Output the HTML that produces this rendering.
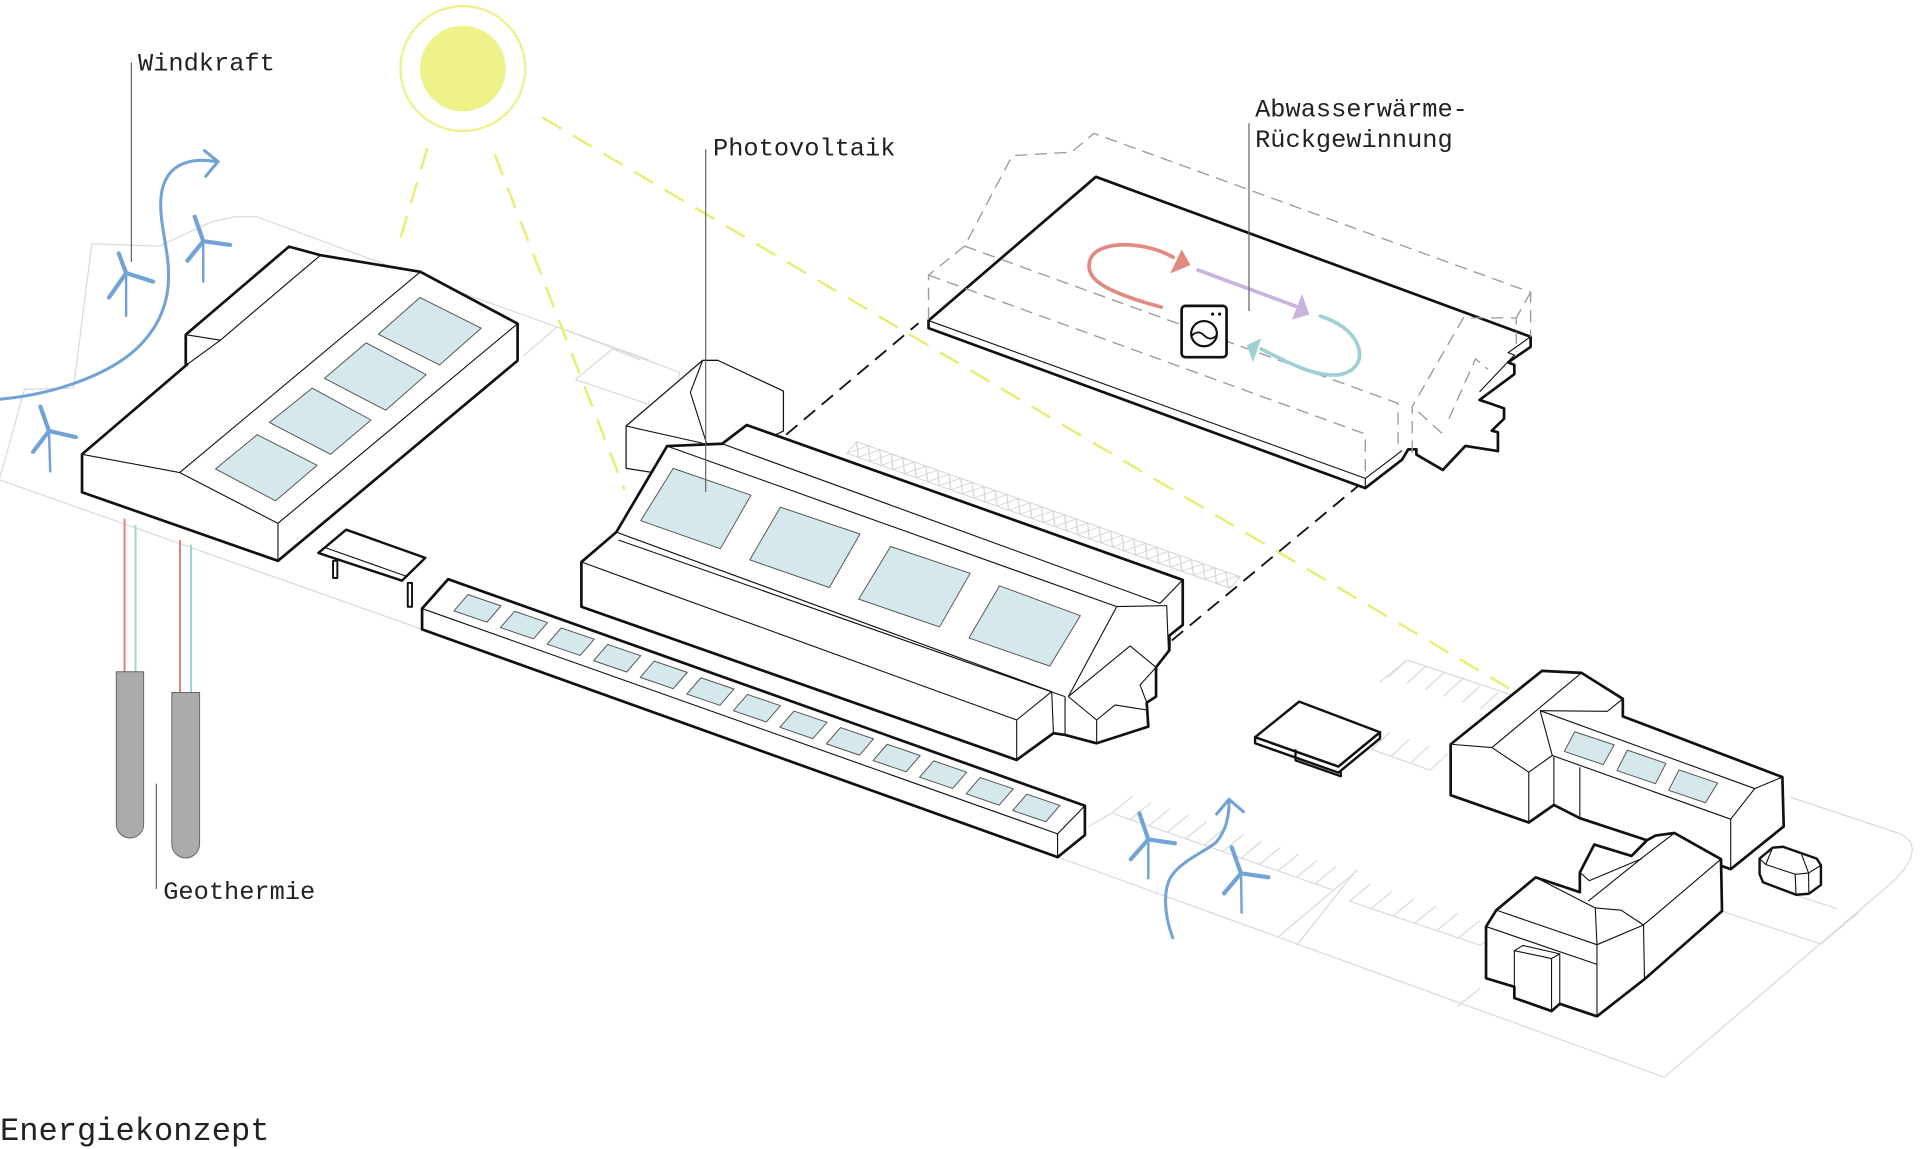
<!DOCTYPE html>
<html><head><meta charset="utf-8">
<style>
html,body{margin:0;padding:0;background:#fff;}
svg{display:block;}
text{font-family:"Liberation Mono","DejaVu Sans Mono",monospace;fill:#222;}
</style></head><body>
<svg width="1920" height="1149" viewBox="0 0 1568 938.35" preserveAspectRatio="none" xmlns="http://www.w3.org/2000/svg">
<defs>
<pattern id="zz" width="20" height="11.6" patternUnits="userSpaceOnUse">
<path d="M0,0 L10,11.6 L20,0 M0,11.6 L10,0 L20,11.6" fill="none" stroke="#d2d2d2" stroke-width="0.8"/>
</pattern>
</defs>
<rect width="1568" height="938.35" fill="#fff"/>

<!-- ground / site lines -->
<g fill="none" stroke="#dadada" stroke-width="1">
<polyline points="0,390 20,318 60,317 75,199 130,201 173,181 192,177 210,177 293,208 393,245 455,267 530,294"/>
<line x1="0" y1="392" x2="345" y2="514"/>
<line x1="455" y1="267" x2="427" y2="291"/>
<polyline points="470,310 500,285 523,294"/>
<polyline points="457,268 555,304 550,337 470,310"/>
<line x1="864" y1="700" x2="1360" y2="880"/>
<path d="M1360,879 L1546,720 Q1574,692 1552,681 L1462,651"/>
<line x1="889" y1="675" x2="908" y2="664"/>
<line x1="908" y1="664" x2="1089" y2="727"/>
<line x1="1089" y1="727" x2="1044" y2="765"/>
<line x1="1108" y1="710" x2="1059" y2="772"/>
<line x1="1102" y1="736" x2="1209" y2="772"/>
<line x1="1190" y1="822" x2="1209" y2="807"/>
<line x1="1127" y1="557" x2="1149" y2="539"/>
<line x1="1149" y1="539" x2="1236" y2="568"/>
<line x1="1120" y1="612" x2="1168" y2="629"/>
<line x1="1406" y1="744" x2="1487" y2="771"/>
<line x1="1487" y1="771" x2="1518" y2="745"/>
<line x1="1466" y1="731" x2="1500" y2="742"/>
<!-- stripes row A -->
<path d="M908,664l17,-14 M923.1,669.3l17,-14 M938.2,674.5l17,-14 M953.2,679.8l17,-14 M968.3,685l17,-14 M983.4,690.3l17,-14 M998.5,695.5l17,-14 M1013.6,700.8l17,-14 M1028.6,706l17,-14 M1043.7,711.3l17,-14 M1058.8,716.5l17,-14 M1073.9,721.8l17,-14 M1089,727l17,-14"/>
<!-- stripes row A2 -->
<path d="M1102,736l17,-14 M1119.8,742l17,-14 M1137.7,748l17,-14 M1155.5,754l17,-14 M1173.3,760l17,-14 M1191.2,766l17,-14 M1209,772l17,-14"/>
<!-- upper parking -->
<path d="M1149,539l-15,14 M1164,544.2l-15,14 M1179,549.4l-15,14 M1194,554.6l-15,14 M1209,559.8l-15,14 M1224,565l-15,14"/>
<path d="M1120,612l15,-14 M1136,617.7l15,-14 M1152,623.3l15,-14 M1168,629l15,-14"/>
</g>

<!-- zigzag strip -->
<g transform="translate(699.6,360.7) rotate(19.4) skewX(-20.8)">
<rect x="0" y="0" width="332" height="11.6" fill="url(#zz)" stroke="#d2d2d2" stroke-width="0.8"/>
</g>

<!-- sun -->
<circle cx="378" cy="56" r="51" fill="none" stroke="#eef191" stroke-width="2"/>
<circle cx="378" cy="56" r="35" fill="#eef28a"/>
<g stroke="#e8ee74" stroke-width="2" stroke-dasharray="18 11" fill="none">
<line x1="349" y1="121" x2="325" y2="201"/>
<line x1="404" y1="126" x2="510" y2="400"/>
<line x1="443" y1="96" x2="1244" y2="569"/>
</g>

<!-- geothermal -->
<g stroke-width="1.6">
<line x1="101.7" y1="423.5" x2="101.7" y2="549" stroke="#e07f7a"/>
<line x1="110.7" y1="428.6" x2="110.7" y2="549" stroke="#9fd3d3"/>
<line x1="147" y1="441" x2="147" y2="566" stroke="#e07f7a"/>
<line x1="156" y1="444.8" x2="156" y2="566" stroke="#9fd3d3"/>
</g>
<path d="M95,548.6 H117.3 V673.2 A11.15,11.15 0 0 1 95,673.2 Z" fill="#ababab" stroke="#666" stroke-width="0.8"/>
<path d="M140.3,565.5 H163 V689.3 A11.35,11.35 0 0 1 140.3,689.3 Z" fill="#ababab" stroke="#666" stroke-width="0.8"/>

<g stroke="#111" stroke-linejoin="round" fill="#fff">
<!-- left building -->
<polygon points="67,371 153,297.5 151.7,297.5 151.7,273.3 236,201.4 261.7,208.4 343.3,222 422.7,264.3 422.7,294.5 227,458 67,402" stroke-width="2.2"/>
<g fill="none" stroke-width="0.9">
<polyline points="67,371 146.7,385.9 227,427.4 227,458"/>
<line x1="227" y1="427.4" x2="422.7" y2="264.3"/>
<line x1="146.7" y1="385.9" x2="343.3" y2="222"/>
<polyline points="151.7,273.3 180,277.8 261.7,208.4"/>
<line x1="180" y1="277.8" x2="153" y2="297.5"/>
</g>
<g fill="#d5e8ec" stroke="#555" stroke-width="0.8">
<polygon points="343,243 393,268 359,298 309,273"/>
<polygon points="299,280 348,306 315,335 265,309"/>
<polygon points="255,317 303,343 270,371 220,345"/>
<polygon points="210,355 259,380 225,409 176,383"/>
</g>

<!-- bench -->
<polygon points="260,451.6 282.7,432.6 347.3,455.6 328.3,474.2" stroke-width="2"/>
<line x1="265" y1="447" x2="333" y2="471" stroke-width="0.9"/>
<rect x="272" y="458" width="3.5" height="14" stroke-width="1.6"/>
<rect x="333" y="476" width="3.5" height="19.5" stroke-width="1.6"/>

<!-- long bar -->
<polygon points="366,473 886,658 886,682 863.7,700 344.7,514 344.7,497" stroke-width="2.2"/>
<polyline points="344.7,497 863.7,681 886,658" fill="none" stroke-width="0.9"/>
<line x1="863.7" y1="681" x2="863.7" y2="700" stroke-width="0.9"/>
<g fill="#d5e8ec" stroke="#555" stroke-width="0.8">
<path d="M382.2,485.6 l27,9.2 l-11.5,13.3 l-27,-9.2z M420.2,499.2 l27,9.2 l-11.5,13.3 l-27,-9.2z M458.3,512.8 l27,9.2 l-11.5,13.3 l-27,-9.2z M496.3,526.3 l27,9.2 l-11.5,13.3 l-27,-9.2z M534.3,539.9 l27,9.2 l-11.5,13.3 l-27,-9.2z M572.4,553.5 l27,9.2 l-11.5,13.3 l-27,-9.2z M610.4,567.1 l27,9.2 l-11.5,13.3 l-27,-9.2z M648.4,580.7 l27,9.2 l-11.5,13.3 l-27,-9.2z M686.4,594.2 l27,9.2 l-11.5,13.3 l-27,-9.2z M724.5,607.8 l27,9.2 l-11.5,13.3 l-27,-9.2z M762.5,621.4 l27,9.2 l-11.5,13.3 l-27,-9.2z M800.5,635 l27,9.2 l-11.5,13.3 l-27,-9.2z M838.6,648.6 l27,9.2 l-11.5,13.3 l-27,-9.2z"/>
</g>

<!-- small house behind center -->
<polygon points="511.3,347.9 573.8,294.3 586.3,294.3 639.8,319.4 639.8,352 560,390 511.3,382.5" stroke-width="1"/>
<g fill="none" stroke-width="0.9">
<line x1="511.3" y1="347.9" x2="574" y2="362"/>
<polyline points="573.8,294.3 563.8,320.5 577,362"/>
<line x1="573.8" y1="294.3" x2="586.3" y2="294.3"/>
</g>

<!-- center building -->
<polygon points="474.8,495.5 474.8,459 503.3,434.6 544.8,364.3 589.8,362.4 609.8,347.1 965.9,473.6 965.9,510.4 955,519 955,531 944.1,545 944.1,568.9 936.5,573.8 937.8,593.4 895.6,607 869.8,600.2 860.3,598.8 830.3,620.6" stroke-width="2.2"/>
<g fill="none" stroke-width="0.9">
<polyline points="474.8,459 830.3,588 858.9,564.8"/>
<line x1="830.3" y1="588" x2="830.3" y2="620.6"/>
<line x1="503.3" y1="434.6" x2="858.9" y2="564.8"/>
<line x1="505" y1="441" x2="869.8" y2="568.9"/>
<line x1="858.9" y1="564.8" x2="860.3" y2="598.8"/>
<line x1="544.8" y1="364.3" x2="912" y2="495.4"/>
<line x1="589.8" y1="362.4" x2="947.4" y2="492.7"/>
<line x1="947.4" y1="492.7" x2="965.9" y2="473.6"/>
<polyline points="912,495.4 952.8,494.6 954.2,530.8"/>
<line x1="912" y1="495.4" x2="872.5" y2="568.9"/>
<line x1="869.8" y1="568.9" x2="869.8" y2="600.2"/>
<polyline points="872.5,568.9 922.9,527.5 944.1,545"/>
<polyline points="872.5,568.9 895.6,588 895.6,607"/>
<polyline points="895.6,588 910.6,575.7 936.5,579.8"/>
<polyline points="944.1,545 931,559.4 936.5,573.8"/>
</g>
<g fill="#d5e8ec" stroke="#555" stroke-width="0.8">
<polygon points="549.8,382.5 613.3,404.4 588.3,448.1 523.3,425.2"/>
<polygon points="637.3,414.2 702.3,436.1 677.3,479.8 612.3,457.2"/>
<polygon points="727.3,446.3 792.3,468.2 767.3,512 701.3,489.3"/>
<polygon points="816.3,478.4 882.3,502.8 857.3,544 791.3,521"/>
</g>
</g>

<!-- connectors -->
<g stroke="#111" stroke-width="1.5" stroke-dasharray="12 7" fill="none">
<line x1="642" y1="355" x2="750" y2="264"/>
<line x1="957" y1="523" x2="1115" y2="392"/>
</g>

<!-- slab -->
<polygon points="895,144.4 1250,275 1250,283.3 1231.7,295.9 1236.7,298 1236.7,305.6 1208.3,326.6 1216.7,329.4 1228.3,333.5 1228.3,341.9 1218.3,351.7 1223.3,353 1223.3,368.4 1196.7,364.2 1178.3,383.8 1156.7,371.2 1156.7,367 1150,367 1145,375.4 1115,398.6 758.3,268 758.3,261.8" fill="#fff" stroke="#111" stroke-width="2.2" stroke-linejoin="round"/>
<g fill="none" stroke="#111" stroke-width="0.9">
<polyline points="758.3,261.8 1115,390.7 1115,398.6"/>
<line x1="1115" y1="390.7" x2="1145" y2="368"/>
<polyline points="1250,275 1231.7,288 1236.7,290 1208.3,320"/>
</g>
<!-- ghost dashed -->
<g fill="none" stroke="#9a9a9a" stroke-width="1.1" stroke-dasharray="10 6">
<polyline points="758.3,261 758.3,224.7 787.7,201 826.7,127.1 875,124.3 893.3,108.9 1250,238.7 1250,275"/>
<polyline points="758.3,224.7 1115,354.5 1115,390.7"/>
<polyline points="787.7,201 1141.7,329.4 1141.7,368"/>
<polyline points="1153.3,369.8 1153.3,332.1 1195,259.6 1238.3,259.6 1238.3,287.5"/>
<polyline points="1158.3,336.3 1178.3,354.5"/>
<polyline points="1183.3,341.9 1205,293.1 1215,301.5"/>
<line x1="1250" y1="238.7" x2="1238.3" y2="259.6"/>
</g>

<!-- heat recovery arrows -->
<g fill="none" stroke-width="3" stroke-linecap="round">
<path d="M948.3,250.7 C930,246 905,238 895,228.9 C886,220 888,208 900,203 C915,197 940,200 958,210" stroke="#e08a80"/>
<line x1="978.3" y1="220.5" x2="1058" y2="250" stroke="#c9b4dd"/>
<path d="M1078.3,258.2 C1090,262 1102,268 1108,280 C1114,293 1108,303 1094,306 C1075,308 1055,298 1030,285" stroke="#9fd0d4"/>
</g>
<polygon points="965,203.8 972.3,216.4 955.7,223.3" fill="#e08a80"/>
<polygon points="1063.3,240.1 1069.3,256.8 1055,261" fill="#c9b4dd"/>
<polygon points="1018.3,281.9 1030,276.3 1023.3,295.9" fill="#9fd0d4"/>
<!-- washing machine -->
<rect x="965" y="249.8" width="36.7" height="41.9" rx="3" fill="#fff" stroke="#111" stroke-width="2.2"/>
<ellipse cx="983.3" cy="272.5" rx="10.5" ry="10.3" fill="none" stroke="#111" stroke-width="1.8"/>
<path d="M973.5,274 q5,-5 10,0 t10,0" fill="none" stroke="#111" stroke-width="1.5"/>
<circle cx="990.3" cy="256.5" r="1.3" fill="#111"/>
<circle cx="996" cy="256.5" r="1.3" fill="#111"/>

<g stroke="#111" stroke-linejoin="round" fill="#fff">
<!-- pad -->
<polygon points="1025,602 1093,626 1127,598 1127,603 1093,631 1025,607" stroke-width="2"/>
<polygon points="1061,573 1127,598 1093,626 1025,602" stroke-width="2"/>
<polyline points="1058,612 1058,621 1095,634 1095,630" fill="none" stroke-width="1.8"/>
<!-- R1 -->
<polygon points="1184.7,607.8 1259.2,547.9 1291.6,549.5 1325.3,570.7 1325.3,585 1455.6,634.6 1456.7,674.9 1413.4,709.8 1345,686.2 1290.2,668.2 1269,657.4 1248.5,671.7 1184.7,649.4" stroke-width="2.2"/>
<g fill="none" stroke-width="0.9">
<polyline points="1184.7,607.8 1218.4,610.5 1248.5,630.6 1248.5,671.7"/>
<line x1="1218.4" y1="610.5" x2="1291.6" y2="549.5"/>
<line x1="1248.5" y1="630.6" x2="1267.7" y2="617"/>
<line x1="1257.8" y1="580.4" x2="1267.7" y2="617"/>
<polyline points="1257.8,580.4 1312.7,580.9 1325.3,570.7"/>
<polyline points="1257.8,580.4 1433,644 1455.6,634.6"/>
<polyline points="1433,644 1413.4,669 1413.4,709.8"/>
<line x1="1267.7" y1="617" x2="1413.4" y2="669"/>
<line x1="1269" y1="618" x2="1269" y2="657.4"/>
<line x1="1290.2" y1="626.6" x2="1290.2" y2="668.2"/>
</g>
<g fill="#d5e8ec" stroke="#555" stroke-width="0.8">
<polygon points="1286,597.6 1318.3,608.3 1309.3,624.4 1277.5,613.7"/>
<polygon points="1329,612.6 1360.5,623.4 1352,640 1320.5,629.3"/>
<polygon points="1371.2,628.7 1402.7,639.5 1392.8,655.6 1362.7,645.4"/>
</g>
<!-- R2 -->
<polygon points="1213.6,756.7 1222,743.3 1254.1,716.5 1290.2,728.6 1290.2,712.5 1302,689.7 1332.4,699 1345,686.2 1352,682.4 1367.5,680.3 1405.5,701.7 1406.3,744.1 1343,799.7 1304.2,830 1273.8,819.8 1267.1,825.7 1236.7,815 1236.7,805.9 1213.6,798.9" stroke-width="2.2"/>
<g fill="none" stroke-width="0.9">
<line x1="1222" y1="743.3" x2="1304.2" y2="771.5"/>
<line x1="1213.6" y1="756.7" x2="1304.2" y2="787.6"/>
<line x1="1304.2" y1="771.5" x2="1304.2" y2="830"/>
<line x1="1304.2" y1="771.5" x2="1342.2" y2="755.4"/>
<line x1="1342.2" y1="755.4" x2="1343" y2="799.7"/>
<polyline points="1254.1,716.5 1302.8,741.5 1304.2,771.5"/>
<polyline points="1302.8,741.5 1323.9,743.3 1342.2,755.4"/>
<line x1="1342.2" y1="755.4" x2="1405.5" y2="701.7"/>
<polyline points="1297,736 1343,699 1367.5,680.3"/>
<polyline points="1290.2,712.5 1298,719.2 1340.8,701.2"/>
</g>
<polygon points="1236.7,776.4 1243.7,772.1 1273.8,779 1267.1,782.8" stroke-width="0.9"/>
<g fill="none" stroke-width="0.9">
<line x1="1236.7" y1="776.4" x2="1236.7" y2="815"/>
<line x1="1267.1" y1="782.8" x2="1267.1" y2="825.7"/>
<line x1="1273.8" y1="779" x2="1273.8" y2="819.8"/>
</g>
<!-- kiosk -->
<polygon points="1437,701.2 1447.7,692.3 1456.1,691.5 1483.7,701.2 1487.1,706.6 1487.1,722.7 1477.2,729.9 1466.8,730.7 1439.8,720.5 1437,713.8" stroke-width="2"/>
<g fill="none" stroke-width="0.9">
<polyline points="1437,701.2 1442,706 1466,714 1477,713 1487.1,706.6"/>
<line x1="1466" y1="714" x2="1466.8" y2="730.7"/>
<line x1="1477" y1="713" x2="1477.2" y2="729.9"/>
<line x1="1442" y1="706" x2="1447.7" y2="692.3"/>
<line x1="1477" y1="713" x2="1471" y2="697"/>
</g>
</g>

<!-- turbines and wind -->
<g stroke="#72a3d6" fill="none" stroke-linecap="round">
<path d="M0,326 C45,322 95,305 118,278 C138,255 140,230 136,205 C132,180 126,155 140,140 C150,130 165,130 177,132" stroke-width="2.5"/>
<polyline points="167,123 178,132 168,144" stroke-width="2.5"/>
<path d="M957.7,765.8 C950,745 950,725 957,715 C965,703 985,695 993,688 C1002,678 1004,665 1003.7,653" stroke-width="2.5"/>
<polyline points="993.6,664.8 1003.7,652.8 1015.4,662.9" stroke-width="2.5"/>
<g stroke-width="2">
<line x1="103" y1="223" x2="103" y2="258"/>
<line x1="166" y1="197" x2="166" y2="230"/>
<line x1="40" y1="352" x2="41" y2="385"/>
<line x1="937.8" y1="685.5" x2="937.8" y2="717.3"/>
<line x1="1013.5" y1="713.2" x2="1014" y2="745.4"/>
</g>
<g stroke-width="3.4">
<path d="M103,223 L97,207 M103,223 L125,230 M103,223 L89,243"/>
<path d="M166,197 L159,177 M166,197 L188,200 M166,197 L153,213"/>
<path d="M40,352 L33,332 M40,352 L62,357 M40,352 L27,369"/>
<path d="M937.8,685.5 L930.5,664.2 M937.8,685.5 L959.6,688.7 M937.8,685.5 L923.4,701.8"/>
<path d="M1013.5,713.2 L1005.9,692 M1013.5,713.2 L1035.8,716.5 M1013.5,713.2 L999.6,729.6"/>
</g>
</g>

<!-- leader lines -->
<g stroke="#666" stroke-width="1">
<line x1="107.3" y1="51" x2="107.3" y2="214"/>
<line x1="576.3" y1="121.8" x2="576.3" y2="401.8"/>
<line x1="1020" y1="100.6" x2="1020" y2="254"/>
<line x1="127.7" y1="640" x2="127.7" y2="726"/>
</g>

<!-- labels -->
<text x="112.7" y="57.4" font-size="20.7">Windkraft</text>
<text x="582.3" y="127" font-size="20.7">Photovoltaik</text>
<text x="1025" y="95" font-size="20.7">Abwasserwärme-</text>
<text x="1025" y="120" font-size="20.7">Rückgewinnung</text>
<text x="133.3" y="734" font-size="20.7">Geothermie</text>
<text x="0" y="931" font-size="26.2">Energiekonzept</text>
</svg>
</body></html>
